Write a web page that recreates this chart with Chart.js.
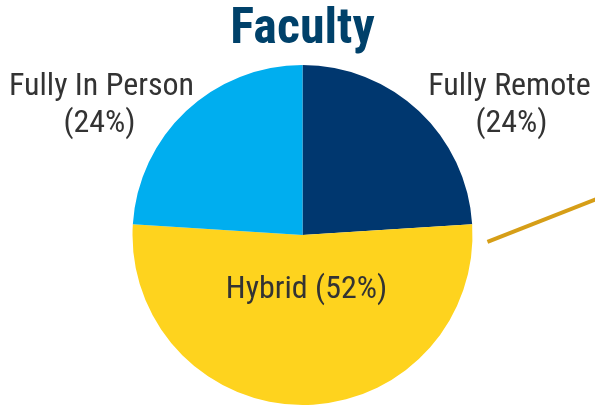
<!DOCTYPE html>
<html>
<head>
<meta charset="utf-8">
<script src="https://cdn.jsdelivr.net/npm/chart.js@4.4.0/dist/chart.umd.min.js"></script>
<style>
  html, body { margin: 0; padding: 0; background: #ffffff; }
  #wrap { width: 595px; height: 406px; }
</style>
</head>
<body>
<div id="wrap"><canvas id="c" width="595" height="406"></canvas></div>
<script>
const categories = ["Fully Remote", "Hybrid", "Fully In Person"];
const shares = [24, 52, 24];
const sliceColors = ["#00376f", "#fed31e", "#00aeef"];
const titleText = "Faculty";
const FONT = "'Roboto Condensed', 'Liberation Sans Narrow', 'Arial Narrow', 'DejaVu Sans Condensed', Roboto, sans-serif";

const labelPlugin = {
  id: 'sliceLabels',
  afterDatasetsDraw(chart) {
    const ctx = chart.ctx;
    const meta = chart.getDatasetMeta(0);
    const arc0 = meta.data[0];
    const cx = arc0.x, cy = arc0.y, r = arc0.outerRadius;
    ctx.save();
    ctx.fillStyle = '#333333';
    ctx.font = "32px " + FONT;
    ctx.textAlign = 'center';
    ctx.textBaseline = 'middle';
    meta.data.forEach((arc, i) => {
      const label = categories[i];
      const pct = '(' + shares[i] + '%)';
      const mid = (arc.startAngle + arc.endAngle) / 2;
      if (shares[i] >= 50) {
        const x = cx + Math.cos(mid) * r * 0.32 + 4;
        const y = cy + Math.sin(mid) * r * 0.32 + 1;
        ctx.fillText(label + ' ' + pct, x, y);
      } else {
        const side = Math.cos(mid) >= 0 ? 1 : -1;
        const x = cx + side * r * 1.2 + 3;
        const y = cy - r * 0.776 + 2;
        ctx.fillText(label, x, y - 18);
        ctx.fillText(pct, x + side * 2, y + 19);
      }
    });
    // leader line
    ctx.strokeStyle = '#d69e17';
    ctx.lineWidth = 4;
    ctx.beginPath();
    ctx.moveTo(cx + r * 1.088, cy + r * 0.04);
    ctx.lineTo(cx + r * 1.75, cy - r * 0.22);
    ctx.stroke();
    ctx.restore();
  }
};

new Chart(document.getElementById('c'), {
  type: 'pie',
  data: {
    labels: categories,
    datasets: [{
      data: shares,
      backgroundColor: sliceColors,
      borderWidth: 0
    }]
  },
  options: {
    responsive: false,
    animation: false,
    rotation: 0,
    layout: { padding: { top: 0, bottom: 1, left: 10, right: 0 } },
    plugins: {
      legend: { display: false },
      tooltip: { enabled: false },
      title: {
        display: true,
        text: titleText,
        color: '#00416a',
        font: { family: FONT, size: 50, weight: 'bold', lineHeight: 1 },
        padding: { top: 5, bottom: 10 }
      }
    }
  },
  plugins: [labelPlugin]
});
</script>
</body>
</html>
